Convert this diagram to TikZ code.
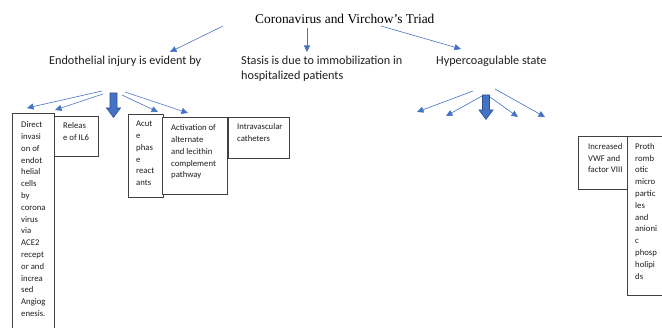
\documentclass[tikz,border=0pt]{standalone}
\usepackage{fontspec}
\setmainfont{Liberation Serif}
\newfontfamily\carlito{Carlito}
\usetikzlibrary{arrows.meta,calc}
\definecolor{accent}{HTML}{4472C4}
\definecolor{accentdark}{HTML}{2F528F}
\definecolor{boxline}{HTML}{404040}
\definecolor{txt}{HTML}{1E1E1E}
\tikzset{
  thinarrow/.style={draw=accent, line width=0.6pt, -{Triangle[length=6.5pt,width=6pt]}},
  blockarrow/.style={fill=accent, draw=accentdark, line width=0.6pt, line join=miter},
  frame/.style={draw=boxline, line width=0.8pt, fill=white, inner sep=0pt, outer sep=0pt, anchor=north west},
  boxtext/.style={font=\carlito\fontsize{8.7}{11.8}\selectfont, text=txt, align=left, inner sep=0pt, anchor=north west},
  label/.style={font=\carlito\fontsize{12.2}{15}\selectfont, text=txt, align=left, inner sep=0pt, anchor=base west},
  titlestyle/.style={font=\fontsize{13.4}{16}\selectfont, text=black, inner sep=0pt, anchor=base west}
}
\begin{document}
\begin{tikzpicture}[x=1pt, y=-1pt]
\useasboundingbox (0,0) rectangle (662,328);
\clip (0,0) rectangle (662,328);

% title and main labels
\node[titlestyle] (title) at (255,23.5) {Coronavirus and Virchow’s Triad};
\node[label] (endo) at (49,65) {Endothelial injury is evident by};
\node[label] (stasis) at (241,80) {Stasis is due to immobilization in\\hospitalized patients};
\node[label] (hyper) at (436,65) {Hypercoagulable state};

% top arrows
\coordinate (t1s) at (223,26); \coordinate (t1e) at (170,52);
\coordinate (t2s) at (307,28); \coordinate (t2e) at (307,52);
\coordinate (t3s) at (381,26); \coordinate (t3e) at (461,49);
\draw[thinarrow] (t1s) -- (t1e);
\draw[thinarrow] (t2s) -- (t2e);
\draw[thinarrow] (t3s) -- (t3e);

% left fan
\coordinate (l1s) at (102,91); \coordinate (l1e) at (27,108);
\coordinate (l2s) at (103,94); \coordinate (l2e) at (55,110);
\coordinate (l3s) at (122,95); \coordinate (l3e) at (158,112);
\coordinate (l4s) at (125,92); \coordinate (l4e) at (188,113);
\draw[thinarrow] (l1s) -- (l1e);
\draw[thinarrow] (l2s) -- (l2e);
\draw[thinarrow] (l3s) -- (l3e);
\draw[thinarrow] (l4s) -- (l4e);
\coordinate (lblk) at (113.5,93);
\draw[blockarrow] (lblk) ++(-3.5,0) -- ++(7,0) -- ++(0,15) -- ++(3.5,0) -- ++(-7,9.5) -- ++(-7,-9.5) -- ++(3.5,0) -- cycle;

% right fan
\coordinate (r1s) at (473,91); \coordinate (r1e) at (417,112);
\coordinate (r2s) at (482,96); \coordinate (r2e) at (446,116);
\coordinate (r3s) at (490,97); \coordinate (r3e) at (518,117);
\coordinate (r4s) at (495,89); \coordinate (r4e) at (545,117);
\draw[thinarrow] (r1s) -- (r1e);
\draw[thinarrow] (r2s) -- (r2e);
\draw[thinarrow] (r3s) -- (r3e);
\draw[thinarrow] (r4s) -- (r4e);
\coordinate (rblk) at (486,95);
\draw[blockarrow] (rblk) ++(-3.5,0) -- ++(7,0) -- ++(0,15) -- ++(3.5,0) -- ++(-7,9.5) -- ++(-7,-9.5) -- ++(3.5,0) -- cycle;

% boxes, left group
\node[frame, minimum width=42pt, minimum height=225pt] (b1) at (12,113) {};
\node[boxtext] (x1) at (21,121.5) {Direct\\invasi\\on of\\endot\\helial\\cells\\by\\corona\\virus\\via\\ACE2\\recept\\or and\\increa\\sed\\Angiog\\enesis.};
\node[frame, minimum width=44pt, minimum height=40pt] (b2) at (54,116) {};
\node[boxtext] (x2) at (63,122.5) {Releas\\e of IL6};
\node[frame, minimum width=35pt, minimum height=83pt] (b3) at (128,114) {};
\node[boxtext] (x3) at (136,121) {Acut\\e\\phas\\e\\react\\ants};
\node[frame, minimum width=65pt, minimum height=77pt] (b4) at (162,117) {};
\node[boxtext] (x4) at (171,124.5) {Activation of\\alternate\\and lecithin\\complement\\pathway};
\node[frame, minimum width=61pt, minimum height=41pt] (b5) at (228,117) {};
\node[boxtext] (x5) at (237,123.5) {Intravascular\\catheters};

% boxes, right group
\node[frame, minimum width=49pt, minimum height=53pt] (b6) at (578,136) {};
\node[boxtext] (x6) at (588,143) {Increased\\VWF and\\factor VIII};
\node[frame, minimum width=40pt, minimum height=159pt] (b7) at (627,136) {};
\node[boxtext] (x7) at (635,143) {Proth\\romb\\otic\\micro\\partic\\les\\and\\anioni\\c\\phosp\\holipi\\ds};
\end{tikzpicture}
\end{document}
